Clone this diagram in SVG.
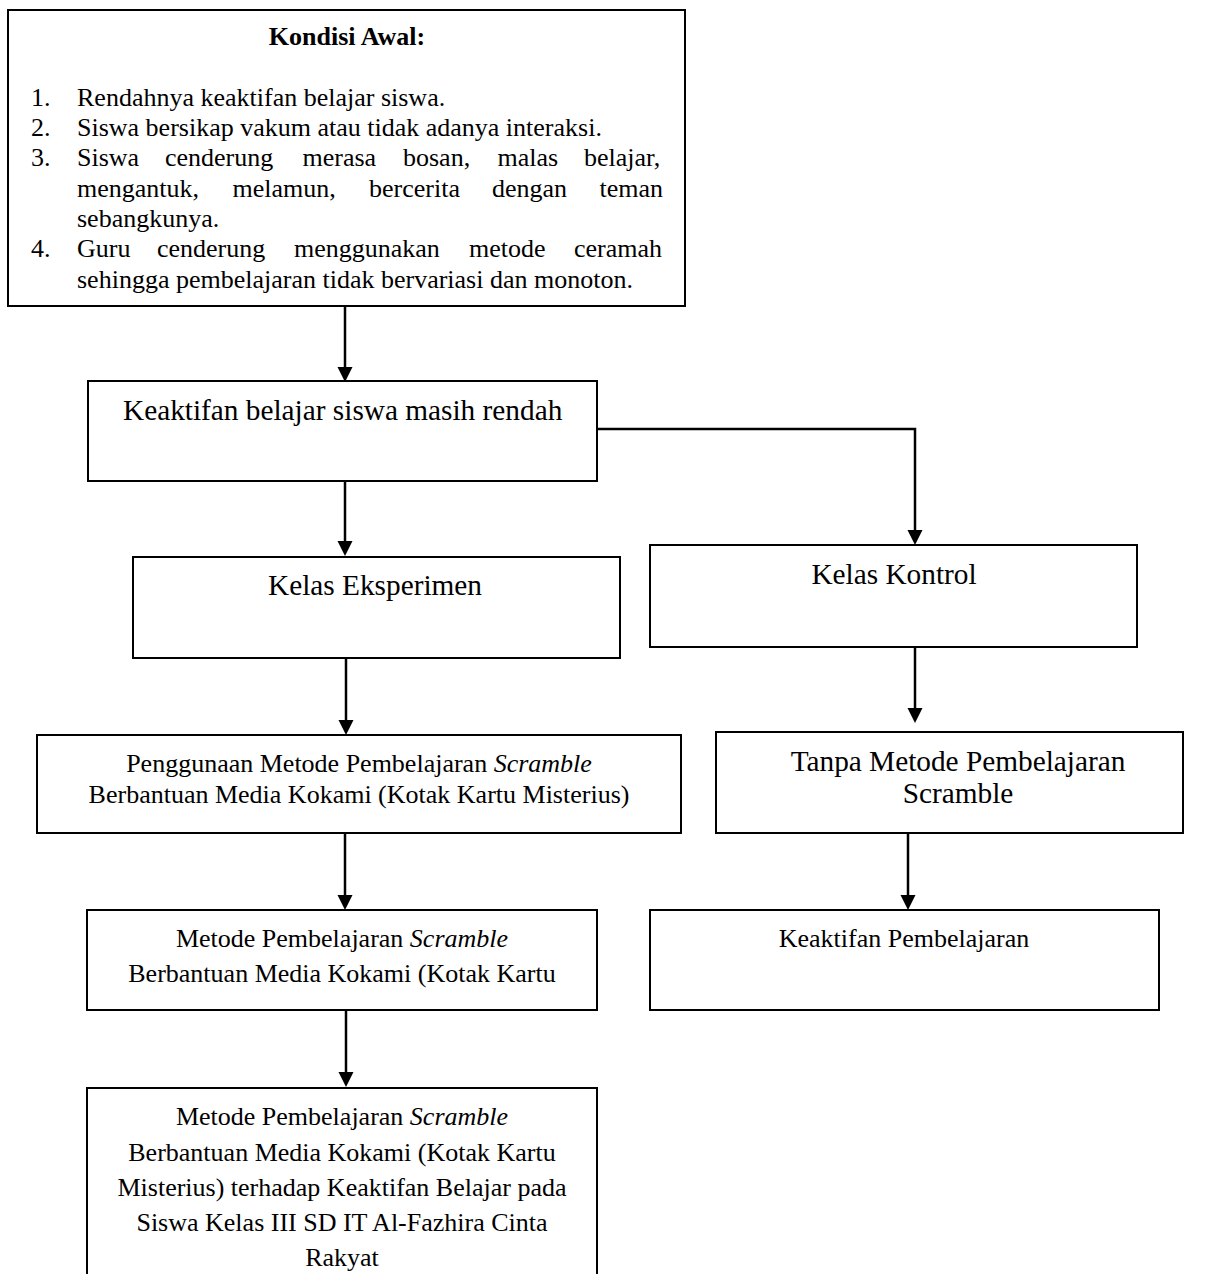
<svg xmlns="http://www.w3.org/2000/svg" width="1208" height="1274" viewBox="0 0 1208 1274">
<style>
  .box { fill: #fff; stroke: #000; stroke-width: 2; }
  .t { font-family: "Liberation Serif", "Times New Roman", serif; fill: #000; }
  .s26 { font-size: 26px; }
  .s29 { font-size: 29.3px; }
  .c { text-anchor: middle; }
  .conn { fill: none; stroke: #000; stroke-width: 2.5; }
  .head { fill: #000; }
  .it { font-style: italic; }
</style>
<rect width="1208" height="1274" fill="#fff"/>

<g id="connectors">
  <path class="conn" d="M345,307 V368"/><path class="head" d="M337.5,367 L352.5,367 L345,382 z"/>
  <path class="conn" d="M597,429 H915 V531"/><path class="head" d="M907.5,530 L922.5,530 L915,545 z"/>
  <path class="conn" d="M345,481 V542"/><path class="head" d="M337.5,541 L352.5,541 L345,556 z"/>
  <path class="conn" d="M346,658 V721"/><path class="head" d="M338.5,720 L353.5,720 L346,735 z"/>
  <path class="conn" d="M915,647 V709"/><path class="head" d="M907.5,708 L922.5,708 L915,723 z"/>
  <path class="conn" d="M345,833 V896"/><path class="head" d="M337.5,895 L352.5,895 L345,910 z"/>
  <path class="conn" d="M908,833 V896"/><path class="head" d="M900.5,895 L915.5,895 L908,910 z"/>
  <path class="conn" d="M346,1010 V1073"/><path class="head" d="M338.5,1072 L353.5,1072 L346,1087 z"/>
</g>

<g id="kondisi-awal">
  <rect class="box" x="8" y="10" width="677" height="296"/>
  <text class="t s26 c" x="347" y="45" font-weight="bold">Kondisi Awal:</text>
  <text class="t s26" x="31" y="105.5">1.</text>
  <text class="t s26" x="77" y="105.5">Rendahnya keaktifan belajar siswa.</text>
  <text class="t s26" x="31" y="136">2.</text>
  <text class="t s26" x="77" y="136">Siswa bersikap vakum atau tidak adanya interaksi.</text>
  <text class="t s26" x="31" y="166">3.</text>
  <text class="t s26" y="166"><tspan x="77">Siswa</tspan><tspan x="165">cenderung</tspan><tspan x="302.5">merasa</tspan><tspan x="403">bosan,</tspan><tspan x="497.5">malas</tspan><tspan x="584">belajar,</tspan></text>
  <text class="t s26" y="196.5"><tspan x="77">mengantuk,</tspan><tspan x="232.5">melamun,</tspan><tspan x="369">bercerita</tspan><tspan x="492">dengan</tspan><tspan x="599.5">teman</tspan></text>
  <text class="t s26" x="77" y="227">sebangkunya.</text>
  <text class="t s26" x="31" y="257">4.</text>
  <text class="t s26" y="257"><tspan x="77">Guru</tspan><tspan x="157">cenderung</tspan><tspan x="294">menggunakan</tspan><tspan x="469">metode</tspan><tspan x="574">ceramah</tspan></text>
  <text class="t s26" x="77" y="288">sehingga pembelajaran tidak bervariasi dan monoton.</text>
</g>

<g id="keaktifan-rendah">
  <rect class="box" x="88" y="381" width="509" height="100"/>
  <text class="t s29" x="123" y="420">Keaktifan belajar siswa masih rendah</text>
</g>

<g id="kelas-eksperimen">
  <rect class="box" x="133" y="557" width="487" height="101"/>
  <text class="t s29 c" x="375" y="595">Kelas Eksperimen</text>
</g>

<g id="kelas-kontrol">
  <rect class="box" x="650" y="545" width="487" height="102"/>
  <text class="t s29 c" x="894" y="584">Kelas Kontrol</text>
</g>

<g id="penggunaan-metode">
  <rect class="box" x="37" y="735" width="644" height="98"/>
  <text class="t s26 c" x="359" y="772">Penggunaan Metode Pembelajaran <tspan class="it">Scramble</tspan></text>
  <text class="t s26 c" x="359" y="803">Berbantuan Media Kokami (Kotak Kartu Misterius)</text>
</g>

<g id="tanpa-metode">
  <rect class="box" x="716" y="732" width="467" height="101"/>
  <text class="t s29 c" x="958" y="771">Tanpa Metode Pembelajaran</text>
  <text class="t s29 c" x="958" y="803">Scramble</text>
</g>

<g id="metode-scramble">
  <rect class="box" x="87" y="910" width="510" height="100"/>
  <text class="t s26 c" x="342" y="947">Metode Pembelajaran <tspan class="it">Scramble</tspan></text>
  <text class="t s26 c" x="342" y="982">Berbantuan Media Kokami (Kotak Kartu</text>
</g>

<g id="keaktifan-pembelajaran">
  <rect class="box" x="650" y="910" width="509" height="100"/>
  <text class="t s26 c" x="904" y="947">Keaktifan Pembelajaran</text>
</g>

<g id="hasil">
  <path class="box" d="M87,1290 V1088 H597 V1290"/>
  <text class="t s26 c" x="342" y="1125">Metode Pembelajaran <tspan class="it">Scramble</tspan></text>
  <text class="t s26 c" x="342" y="1160.5">Berbantuan Media Kokami (Kotak Kartu</text>
  <text class="t s26 c" x="342" y="1195.5">Misterius) terhadap Keaktifan Belajar pada</text>
  <text class="t s26 c" x="342" y="1230.5">Siswa Kelas III SD IT Al-Fazhira Cinta</text>
  <text class="t s26 c" x="342" y="1265.5">Rakyat</text>
</g>
</svg>
